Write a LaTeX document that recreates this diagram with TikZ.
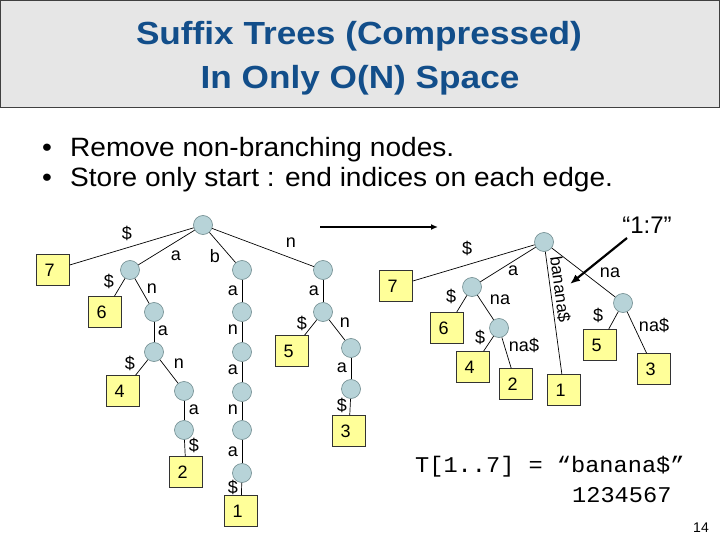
\documentclass[tikz,border=0pt]{standalone}
\usepackage{fontspec}
\setmainfont{Liberation Sans}
\newfontfamily\monofnt{Liberation Mono}
\usetikzlibrary{arrows.meta}
\definecolor{titleblue}{RGB}{18,78,138}
\definecolor{titlegray}{RGB}{230,230,230}
\definecolor{nodefill}{RGB}{183,211,216}
\definecolor{nodeline}{RGB}{110,138,142}
\definecolor{leaffill}{RGB}{255,255,153}
\begin{document}
\begin{tikzpicture}[x=1pt,y=-1pt,
  inode/.style={circle, draw=nodeline, fill=nodefill, minimum size=19pt, inner sep=0pt, line width=0.6pt},
  leaf/.style={rectangle, draw=black!80, fill=leaffill, minimum width=33pt, minimum height=31pt, inner xsep=8pt, inner ysep=0pt, text width=17pt, align=left, font=\fontsize{18}{20}\selectfont, line width=0.6pt},
  lbl/.style={font=\fontsize{18}{20}\selectfont, inner sep=0pt},
  edge/.style={line width=0.7pt},
  titletext/.style={font=\fontsize{32}{36}\selectfont\bfseries, text=titleblue, inner sep=0pt, anchor=base},
  bullettext/.style={font=\fontsize{26.5}{30}\selectfont, inner sep=0pt, anchor=base west},
  monotext/.style={font=\fontsize{22.5}{26}\selectfont\monofnt, inner sep=0pt, anchor=base west}
]
\useasboundingbox (0,0) rectangle (720,540);
\fill[white] (0,0) rectangle (720,540);
% title
\draw[fill=titlegray, draw=black!75, line width=0.8pt] (0.5,0.5) rectangle (719.5,107);
\node[titletext] (t1) at (359,45) {\scalebox{1.1}[1]{Suffix Trees (Compressed)}};
\node[titletext] (t2) at (360,89) {\scalebox{1.1}[1]{In Only O(N) Space}};
% bullets
\node[bullettext] (b1d) at (42,157) {\scalebox{1.06}[1]{•}};
\node[bullettext] (b1) at (70,157) {\scalebox{1.06}[1]{Remove non-branching nodes.}};
\node[bullettext] (b2d) at (42,187) {\scalebox{1.06}[1]{•}};
\node[bullettext] (b2) at (70,187) {\scalebox{1.06}[1]{Store only start : end indices on each edge.}};

% ---------- left tree ----------
\node[inode] (root) at (203,225) {};
\node[inode] (A) at (130,270) {};
\node[inode] (B) at (242,270) {};
\node[inode] (N) at (323,270) {};
\node[inode] (An) at (154,312) {};
\node[inode] (Ana) at (154,352) {};
\node[inode] (Anan) at (184,391) {};
\node[inode] (Anana) at (184,430) {};
\node[inode] (B1) at (242,312) {};
\node[inode] (B2) at (242,352) {};
\node[inode] (B3) at (242,392) {};
\node[inode] (B4) at (242,430) {};
\node[inode] (B5) at (242,473) {};
\node[inode] (Na) at (323,312) {};
\node[inode] (Nan) at (351,348) {};
\node[inode] (Nana) at (351,389) {};
\node[leaf] (L7) at (53,270) {7};
\node[leaf] (L6) at (105,312) {6};
\node[leaf] (L4) at (123,391) {4};
\node[leaf] (L2) at (186,472) {2};
\node[leaf] (L1) at (241,511) {1};
\node[leaf] (L5) at (292,351) {5};
\node[leaf] (L3) at (349,431) {3};
\draw[edge] (root) -- (L7);
\draw[edge] (root) -- (A);
\draw[edge] (root) -- (B);
\draw[edge] (root) -- (N);
\draw[edge] (A) -- (L6);
\draw[edge] (A) -- (An);
\draw[edge] (An) -- (Ana);
\draw[edge] (Ana) -- (L4);
\draw[edge] (Ana) -- (Anan);
\draw[edge] (Anan) -- (Anana);
\draw[edge] (Anana) -- (L2);
\draw[edge] (B) -- (B1);
\draw[edge] (B1) -- (B2);
\draw[edge] (B2) -- (B3);
\draw[edge] (B3) -- (B4);
\draw[edge] (B4) -- (B5);
\draw[edge] (B5) -- (L1);
\draw[edge] (N) -- (Na);
\draw[edge] (Na) -- (L5);
\draw[edge] (Na) -- (Nan);
\draw[edge] (Nan) -- (Nana);
\draw[edge] (Nana) -- (L3);
\node[lbl] (l1) at (127,233) {\$};
\node[lbl] (l2) at (176,256) {a};
\node[lbl] (l3) at (215,256) {b};
\node[lbl] (l4) at (291,243) {n};
\node[lbl] (l5) at (109,281) {\$};
\node[lbl] (l6) at (152,289) {n};
\node[lbl] (l7) at (163,331) {a};
\node[lbl] (l8) at (130,363) {\$};
\node[lbl] (l9) at (179,364) {n};
\node[lbl] (l10) at (194,410) {a};
\node[lbl] (l11) at (194,445) {\$};
\node[lbl] (l12) at (233,291) {a};
\node[lbl] (l13) at (233,330) {n};
\node[lbl] (l14) at (233,370) {a};
\node[lbl] (l15) at (233,410) {n};
\node[lbl] (l16) at (233,452) {a};
\node[lbl] (l17) at (233,487) {\$};
\node[lbl] (l18) at (314,291) {a};
\node[lbl] (l19) at (302,323) {\$};
\node[lbl] (l20) at (345,323) {n};
\node[lbl] (l21) at (342,368) {a};
\node[lbl] (l22) at (342,405) {\$};

% arrow between trees
\coordinate (arrS) at (320,227);
\coordinate (arrE) at (438,227);
\draw[line width=1.8pt, -{Latex[length=7pt,width=6pt]}] (arrS) -- (arrE);

% ---------- right tree ----------
\node[inode] (rroot) at (544,242) {};
\node[inode] (Ra) at (472,287) {};
\node[inode] (Rana) at (499,328) {};
\node[inode] (Rn) at (623,303) {};
\node[leaf] (R7) at (396,286) {7};
\node[leaf] (R6) at (447,328) {6};
\node[leaf] (R4) at (473,367) {4};
\node[leaf] (R2) at (516,384) {2};
\node[leaf] (R1) at (564,390) {1};
\node[leaf] (R5) at (600,345) {5};
\node[leaf] (R3) at (654,369) {3};
\draw[edge] (rroot) -- (R7);
\draw[edge] (rroot) -- (Ra);
\draw[edge] (rroot) -- (R1);
\draw[edge] (rroot) -- (Rn);
\draw[edge] (Ra) -- (R6);
\draw[edge] (Ra) -- (Rana);
\draw[edge] (Rana) -- (R4);
\draw[edge] (Rana) -- (R2);
\draw[edge] (Rn) -- (R5);
\draw[edge] (Rn) -- (R3);
\node[lbl] (r1) at (467,248) {\$};
\node[lbl] (r2) at (513,271) {a};
\node[lbl] (r3) at (451,296) {\$};
\node[lbl] (r4) at (500,300) {na};
\node[lbl] (r5) at (480,337) {\$};
\node[lbl] (r6) at (524,345) {na\$};
\node[lbl, font=\fontsize{17}{19}\selectfont, rotate=-82.3, anchor=base west] (r7) at (550,257) {banana\$};
\node[lbl] (r8) at (610,273) {na};
\node[lbl] (r9) at (598,315) {\$};
\node[lbl] (r10) at (654,325) {na\$};

% "1:7" annotation
\node[inner sep=0pt, font=\fontsize{24}{28}\selectfont] (q17) at (647,225) {“1:7”};
\coordinate (qS) at (627,238);
\coordinate (qE) at (570,284);
\draw[line width=2.2pt, -{Latex[length=10pt,width=8pt]}] (qS) -- (qE);

% bottom text
\node[monotext] (m1) at (415,472) {\scalebox{1.05}[1]{T[1..7] = “banana\$”}};
\node[monotext] (m2) at (572,502) {\scalebox{1.05}[1]{1234567}};
\node[inner sep=0pt, font=\fontsize{14}{16}\selectfont] (pg) at (701,528) {14};
\end{tikzpicture}
\end{document}
